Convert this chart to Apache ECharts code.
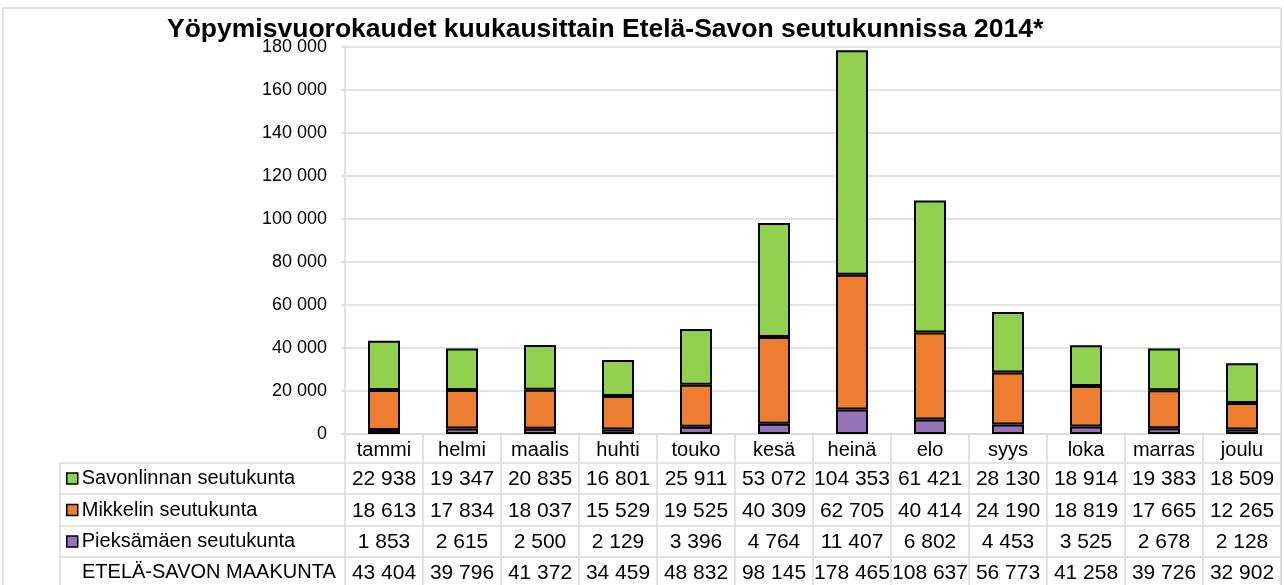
<!DOCTYPE html>
<html>
<head>
<meta charset="utf-8">
<script src="https://cdn.jsdelivr.net/npm/echarts@6/dist/echarts.min.js"></script>
<style>
  html, body { margin: 0; padding: 0; background: #fff; }
  #main { width: 1284px; height: 585px; }
</style>
</head>
<body>
<div id="main"></div>
<script>
const months = ['tammi', 'helmi', 'maalis', 'huhti', 'touko', 'kesä', 'heinä', 'elo', 'syys', 'loka', 'marras', 'joulu'];
const savonlinna = [22938, 19347, 20835, 16801, 25911, 53072, 104353, 61421, 28130, 18914, 19383, 18509];
const mikkeli = [18613, 17834, 18037, 15529, 19525, 40309, 62705, 40414, 24190, 18819, 17665, 12265];
const pieksamaki = [1853, 2615, 2500, 2129, 3396, 4764, 11407, 6802, 4453, 3525, 2678, 2128];
const total = [43404, 39796, 41372, 34459, 48832, 98145, 178465, 108637, 56773, 41258, 39726, 32902];
const names = ['Savonlinnan seutukunta', 'Mikkelin seutukunta', 'Pieksämäen seutukunta'];
const totalName = 'ETELÄ-SAVON MAAKUNTA';
const colors = ['#92d050', '#ed7d31', '#9673b9'];

const font = 'Liberation Sans, Arial, sans-serif';
const grey = '#d9d9d9';
// table row lines (y) below the plot
const rows = [434, 463, 494, 526, 557, 588];

function fmt(n) {
  return String(n).replace(/\B(?=(\d{3})+(?!\d))/g, ' ');
}

function tableAxis(labels, i, size) {
  return {
    type: 'category',
    position: 'bottom',
    offset: rows[i] - rows[0],
    data: labels,
    axisLine: { show: true, lineStyle: { color: grey, width: 1.5 } },
    axisTick: { show: true, interval: 0, length: rows[i + 1] - rows[i], lineStyle: { color: grey, width: 1.5 } },
    axisLabel: {
      interval: 0, fontSize: size, color: '#000', fontFamily: font,
      margin: Math.round((rows[i + 1] - rows[i] - size) / 2) + 1
    },
    splitLine: { show: false }
  };
}

const chart = echarts.init(document.getElementById('main'));

const option = {
  animation: false,
  textStyle: { fontFamily: font },
  title: {
    text: 'Yöpymisvuorokaudet kuukausittain Etelä-Savon seutukunnissa 2014*',
    left: 167,
    top: 16,
    padding: 0,
    textStyle: { fontSize: 26.5, fontWeight: 'bold', color: '#000', fontFamily: font }
  },
  legend: names.map((n, i) => ({
    data: [n],
    left: 66,
    top: (rows[i + 1] + rows[i + 2]) / 2 - 10,
    padding: 0,
    icon: 'rect',
    itemWidth: 11,
    itemHeight: 11,
    itemGap: 5,
    itemStyle: { borderColor: '#000', borderWidth: 1.5 },
    textStyle: { fontSize: 20, color: '#000', fontFamily: font, padding: [0, 0, 0, -1] }
  })),
  grid: { left: 345, right: 3, top: 47, bottom: 585 - rows[0] },
  xAxis: [
    tableAxis(months, 0, 20),
    tableAxis(savonlinna.map(fmt), 1, 21),
    tableAxis(mikkeli.map(fmt), 2, 21),
    tableAxis(pieksamaki.map(fmt), 3, 21),
    tableAxis(total.map(fmt), 4, 21)
  ],
  yAxis: {
    type: 'value',
    min: 0,
    max: 180000,
    interval: 20000,
    axisLine: { show: true, lineStyle: { color: grey, width: 1.5 } },
    axisTick: { show: true, length: 4, lineStyle: { color: grey, width: 1.5 } },
    axisLabel: { fontSize: 18, color: '#000', margin: 18, formatter: fmt, fontFamily: font },
    splitLine: { lineStyle: { color: grey, width: 1.5 } }
  },
  series: [
    { name: names[2], data: pieksamaki, color: colors[2] },
    { name: names[1], data: mikkeli, color: colors[1] },
    { name: names[0], data: savonlinna, color: colors[0] }
  ].map(s => ({
    name: s.name,
    type: 'bar',
    stack: 'total',
    xAxisIndex: 0,
    barWidth: 32,
    data: s.data,
    itemStyle: { color: s.color, borderColor: '#000', borderWidth: 2 }
  })),
  graphic: [
    { type: 'rect', shape: { x: 3, y: 8, width: 1278, height: 590 }, style: { fill: 'none', stroke: grey, lineWidth: 1.5 }, silent: true },
    { type: 'line', shape: { x1: 60, y1: rows[1], x2: 60, y2: 588 }, style: { stroke: grey, lineWidth: 1.5 } },
    ...rows.slice(1, 5).map(y => ({ type: 'line', shape: { x1: 60, y1: y, x2: 345, y2: y }, style: { stroke: grey, lineWidth: 1.5 } })),
    { type: 'text', left: 82, top: (rows[4] + rows[5]) / 2 - 10, style: { text: totalName, fontSize: 20, fill: '#000', fontFamily: font } }
  ]
};

chart.setOption(option);
</script>
</body>
</html>
